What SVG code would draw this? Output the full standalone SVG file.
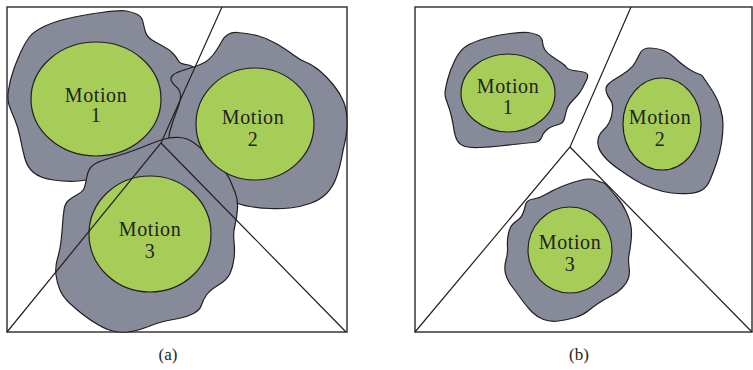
<svg xmlns="http://www.w3.org/2000/svg" width="753" height="370" viewBox="0 0 753 370">
<style>
.frame{fill:#fff;stroke:#3a3a3a;stroke-width:1.5}
.blob{fill:#878b99;stroke:#231f20;stroke-width:1.2;stroke-linejoin:round}
.core{fill:#a6cd58;stroke:#231f20;stroke-width:1.2}
.edge{fill:none;stroke:#231f20;stroke-width:1.2}
.lbl{font-family:"Liberation Serif","Times New Roman",serif;font-size:20px;fill:#231f20;text-anchor:middle;letter-spacing:0.6px}
.cap{font-family:"Liberation Serif","Times New Roman",serif;font-size:17px;fill:#231f20;text-anchor:middle}
</style>
<rect class="frame" x="7" y="7" width="340" height="325"/>
<rect class="frame" x="415" y="7" width="337" height="325"/>

<g id="a-motion1">
<path class="blob" d="M21,51.5 Q25,43 29,37.5 Q33,32 43,27 Q53,22 68,18.5 Q83,15 101.5,12.5 Q120,10 126.5,11 Q133,12 137.5,14.5 Q142,17 143,22 Q144,27 145.5,32 Q147,37 152,40 Q157,43 163.5,46.5 Q170,50 173.5,54 Q177,58 178.5,61 Q180,64 188.5,65 Q197,66 198.5,83 Q200,100 187.5,125 Q175,150 152.5,160 Q130,170 110,175 Q90,180 78.5,181 Q67,182 53.5,180 Q40,178 33.5,172.5 Q27,167 24.5,157 Q22,147 20,137 Q18,127 15,120 Q12,113 9.5,106.5 Q7,100 8.5,90 Q10,80 13.5,70 Q17,60 21,51.5 Z"/>
</g>
<g id="a-motion2">
<path class="blob" d="M172.5,75.5 Q175,73 181,71 Q187,69 193.5,67 Q200,65 204.5,62.5 Q209,60 213,55 Q217,50 222,41 Q227,32 237,32.5 Q247,33 257,35.5 Q267,38 277,44 Q287,50 293.5,55 Q300,60 306.5,62.5 Q313,65 320,71 Q327,77 333.5,85 Q340,93 343.5,101.5 Q347,110 347,121.5 Q347,133 345,141.5 Q343,150 341.5,158.5 Q340,167 336.5,177 Q333,187 326.5,193.5 Q320,200 310,203.5 Q300,207 290,208 Q280,209 270,208.5 Q260,208 250,206.5 Q240,205 236.5,202.5 Q233,200 224,185 Q215,170 205,156 Q195,142 187.5,141 Q180,140 173.5,141 Q167,142 170,131 Q173,120 177,110 Q181,100 180.5,95 Q180,90 176.5,87 Q173,84 171.5,81 Q170,78 172.5,75.5 Z"/>
</g>
<g id="a-motion3">
<path class="blob" d="M166.5,138.5 Q173,137 180,137.5 Q187,138 193.5,142.5 Q200,147 206.5,153.5 Q213,160 220,166.5 Q227,173 230,180 Q233,187 235.5,193.5 Q238,200 237.5,208.5 Q237,217 235,225 Q233,233 234,241.5 Q235,250 234,258.5 Q233,267 230,273.5 Q227,280 218.5,285 Q210,290 206.5,295 Q203,300 201.5,305 Q200,310 193.5,313.5 Q187,317 178.5,318.5 Q170,320 163.5,321.5 Q157,323 148.5,326.5 Q140,330 131.5,331.5 Q123,333 115,331.5 Q107,330 98.5,325 Q90,320 83.5,315 Q77,310 70,303.5 Q63,297 60,290 Q57,283 56,275 Q55,267 57.5,258.5 Q60,250 61,241.5 Q62,233 62.5,225 Q63,217 64,210 Q65,203 69,200 Q73,197 77.5,194.5 Q82,192 83.5,189.5 Q85,187 86.5,178.5 Q88,170 91.5,166.5 Q95,163 102.5,160.5 Q110,158 118.5,155.5 Q127,153 135,150 Q143,147 151.5,143.5 Q160,140 166.5,138.5 Z"/>
</g>
<g id="a-cores">
<ellipse class="core" cx="96" cy="99" rx="65" ry="57"/>
<ellipse class="core" cx="255" cy="124" rx="59" ry="56"/>
<ellipse class="core" cx="150" cy="234" rx="61" ry="58"/>
</g>

<g id="b-motion1">
<path class="blob" d="M447.5,80 Q450,70 455,60 Q460,50 466.5,46 Q473,42 485,38.5 Q497,35 510,33.5 Q523,32 528,32.5 Q533,33 537.5,35 Q542,37 542.5,42 Q543,47 545,50 Q547,53 552,56.5 Q557,60 561,62.5 Q565,65 566.5,67.5 Q568,70 577.5,71 Q587,72 587.5,74.5 Q588,77 586.5,80 Q585,83 582.5,88 Q580,93 576.5,96.5 Q573,100 570,103.5 Q567,107 566,112 Q565,117 564,120 Q563,123 560,124 Q557,125 553.5,126 Q550,127 546.5,130 Q543,133 541.5,137.5 Q540,142 533.5,142.5 Q527,143 518.5,144 Q510,145 500,146 Q490,147 480,147.5 Q470,148 465,146.5 Q460,145 457.5,141 Q455,137 454,130 Q453,123 451.5,116.5 Q450,110 447.5,103.5 Q445,97 445,93.5 Q445,90 447.5,80 Z"/>
<ellipse class="core" cx="508" cy="93" rx="47" ry="39"/>
</g>
<g id="b-motion2">
<path class="blob" d="M650,48 Q657,48 663.5,50.5 Q670,53 675,58 Q680,63 686.5,67.5 Q693,72 697.5,73.5 Q702,75 702.5,76 Q703,77 706.5,82 Q710,87 714,93.5 Q718,100 720.5,108.5 Q723,117 723,125 Q723,133 721.5,143 Q720,153 716.5,163 Q713,173 710,180 Q707,187 702,190 Q697,193 688.5,193.5 Q680,194 671.5,193 Q663,192 653,188.5 Q643,185 635,180 Q627,175 618.5,169 Q610,163 605,157.5 Q600,152 598.5,147 Q597,142 598.5,137.5 Q600,133 603.5,130 Q607,127 609.5,122 Q612,117 612.5,110 Q613,103 610.5,100 Q608,97 606.5,92.5 Q605,88 607.5,85 Q610,82 616,78.5 Q622,75 627.5,71 Q633,67 635.5,62 Q638,57 640.5,52.5 Q643,48 650,48 Z"/>
<ellipse class="core" cx="662" cy="124" rx="39" ry="46"/>
</g>
<g id="b-motion3">
<path class="blob" d="M533.5,199 Q540,198 546.5,194 Q553,190 563,186 Q573,182 581.5,180 Q590,178 595,180 Q600,182 602.5,182.5 Q605,183 609,188 Q613,193 617.5,198 Q622,203 626,211.5 Q630,220 631,226.5 Q632,233 631,241.5 Q630,250 629,255 Q628,260 629,266.5 Q630,273 628.5,278 Q627,283 622,288 Q617,293 610,296.5 Q603,300 598,303.5 Q593,307 588,311 Q583,315 575,317.5 Q567,320 558.5,321 Q550,322 543.5,319.5 Q537,317 532,312 Q527,307 522,300 Q517,293 512,286.5 Q507,280 505.5,273.5 Q504,267 506,260 Q508,253 507.5,246.5 Q507,240 508.5,233.5 Q510,227 512.5,224.5 Q515,222 518.5,219.5 Q522,217 523.5,212 Q525,207 526,203.5 Q527,200 533.5,199 Z"/>
<ellipse class="core" cx="570" cy="250" rx="42" ry="43"/>
</g>

<g id="connectors">
<polyline class="edge" points="222,7 161,143 7,332"/>
<line class="edge" x1="161" y1="143" x2="346" y2="332"/>
<polyline class="edge" points="631,7 570,147 415,332"/>
<line class="edge" x1="570" y1="147" x2="752" y2="332"/>
</g>

<g id="labels">
<text class="lbl" x="96" y="102">Motion</text>
<text class="lbl" x="96" y="122">1</text>
<text class="lbl" x="253" y="124">Motion</text>
<text class="lbl" x="253" y="146">2</text>
<text class="lbl" x="150" y="236">Motion</text>
<text class="lbl" x="150" y="258">3</text>
<text class="lbl" x="508" y="93">Motion</text>
<text class="lbl" x="508" y="114">1</text>
<text class="lbl" x="660" y="124">Motion</text>
<text class="lbl" x="660" y="146">2</text>
<text class="lbl" x="570" y="249">Motion</text>
<text class="lbl" x="570" y="271">3</text>
<text class="cap" x="168" y="360">(a)</text>
<text class="cap" x="579" y="360">(b)</text>
</g>
</svg>
